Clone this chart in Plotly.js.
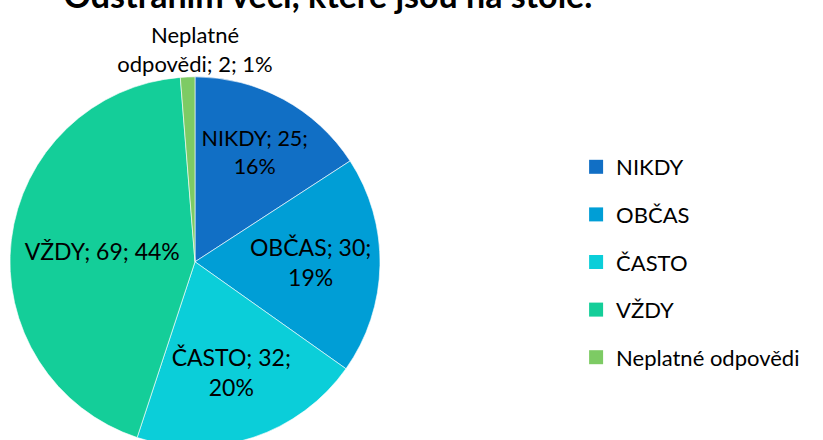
<!DOCTYPE html>
<html>
<head>
<meta charset="utf-8">
<script src="https://cdn.plot.ly/plotly-3.0.1.min.js"></script>
<style>
    html, body { margin: 0; padding: 0; overflow: hidden; background: #fff; }
    #chart { position: absolute; left: 0; top: -30px; width: 823px; height: 480px; }
</style>
</head>
<body>
<div id="chart"></div>
<script>
// chart data
var categories = ["NIKDY", "OBČAS", "ČASTO", "VŽDY", "Neplatné odpovědi"];
var counts = [25, 30, 32, 69, 2];
var colors = ["#116FC5", "#009ED6", "#0BCED9", "#14CE99", "#7DCB64"];
var chartTitle = "Odstraním věci, které jsou na stole.";

var FONT = "Lato, 'Open Sans', sans-serif";

// label formats as Excel wrapped them
var templates = [
    "%{label}; %{value};<br>%{percent:.0%}",
    "%{label}; %{value};<br>%{percent:.0%}",
    "%{label}; %{value};<br>%{percent:.0%}",
    "%{label}; %{value}; %{percent:.0%}",
    ""
];
var positions = ["inside", "inside", "inside", "inside", "none"];

// the tiny slice gets its label centred above the pie, like Excel does
var total = counts.reduce(function (a, b) { return a + b; }, 0);
var last = categories.length - 1;
var smallLabel = categories[last].replace(' ', '<br>') + '; ' + counts[last] + '; ' +
    Math.round(100 * counts[last] / total) + '%';

var traces = [];
traces.push({
    type: 'pie',
    labels: categories,
    values: counts,
    sort: false,
    direction: 'clockwise',
    rotation: 0,
    marker: { colors: colors, line: { color: '#ffffff', width: 0.6 } },
    texttemplate: templates,
    textposition: positions,
    insidetextorientation: 'horizontal',
    textfont: { family: FONT, size: 23, color: '#000000' },
    title: {
        text: smallLabel,
        position: 'top center',
        font: { family: FONT, size: 22, color: '#000000' }
    },
    showlegend: false,
    hoverinfo: 'label+value+percent',
    // domain includes the room the pie title takes above the circle
    domain: { x: [10 / 823, 380 / 823], y: [3 / 480, 429 / 480] }
});

// legend entries (one group each, so the rows can be spaced like Excel)
for (var i = 0; i < categories.length; i++) {
    traces.push({
        type: 'scatter',
        mode: 'markers',
        x: [null],
        y: [null],
        name: categories[i],
        legendgroup: 'g' + i,
        marker: { symbol: 'square', size: 14, color: colors[i] },
        hoverinfo: 'skip'
    });
}

var layout = {
    width: 823,
    height: 480,
    margin: { l: 0, r: 0, t: 0, b: 0 },
    paper_bgcolor: '#ffffff',
    plot_bgcolor: '#ffffff',
    font: { family: FONT, size: 22, color: '#000000' },
    title: {
        text: chartTitle,
        font: { family: FONT, size: 34, color: '#000000', weight: 'bold' },
        x: 0.3985,
        xanchor: 'center',
        y: 0.9465,
        yanchor: 'middle',
        yref: 'container'
    },
    xaxis: { visible: false },
    yaxis: { visible: false },
    showlegend: true,
    legend: {
        x: 0.7,
        xanchor: 'left',
        y: 1 - 176 / 480,
        yanchor: 'top',
        tracegroupgap: 16,
        font: { family: FONT, size: 22, color: '#000000' },
        bgcolor: 'rgba(0,0,0,0)'
    }
};

Plotly.newPlot('chart', traces, layout, { staticPlot: true });
</script>
</body>
</html>
